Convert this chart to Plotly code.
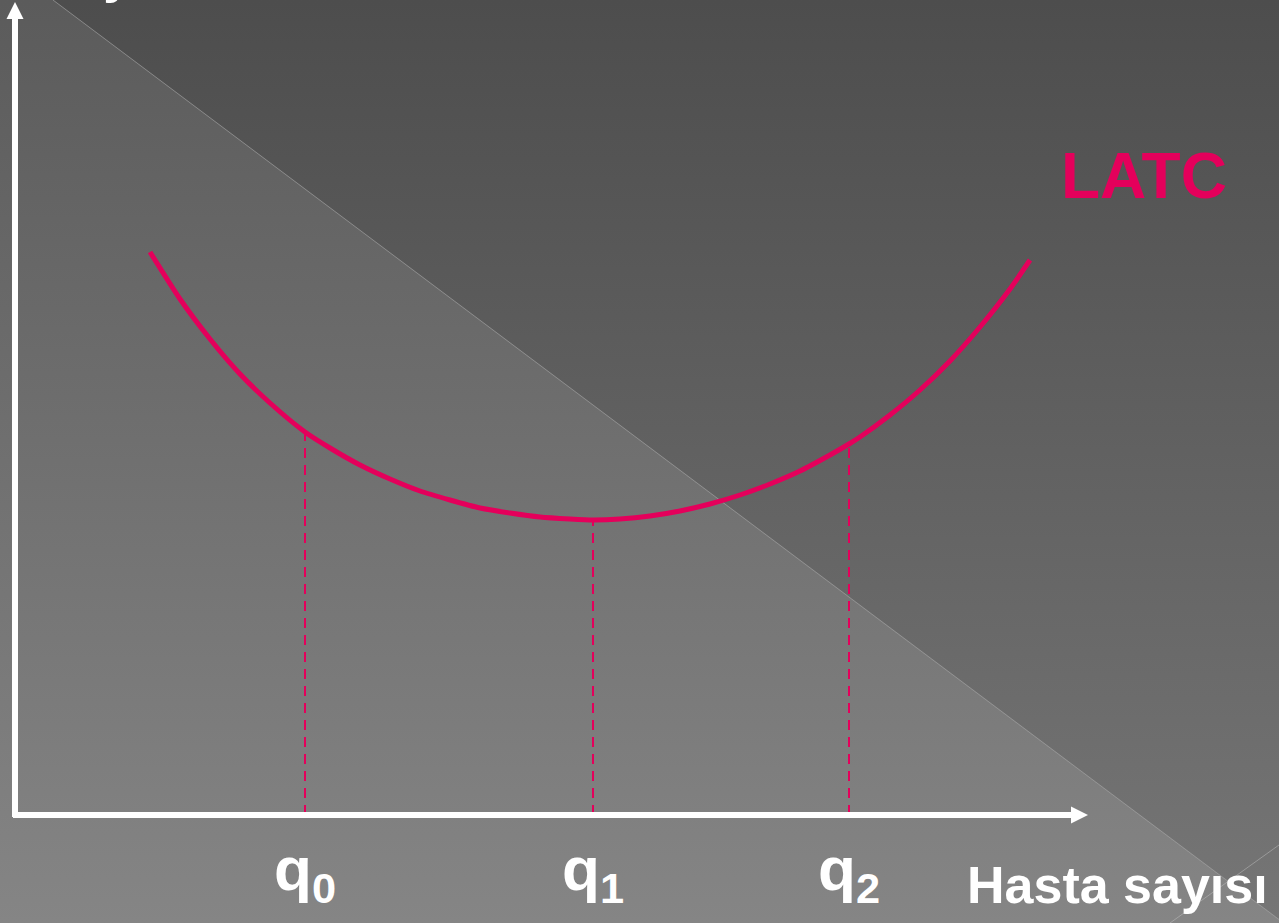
import plotly.graph_objects as go

# ---- data -------------------------------------------------------------
# LATC (long-run average total cost) curve, read along its length
latc_x = [13.5, 16.5, 19.5, 22.5, 25.5, 29.0, 31.5, 34.5, 37.5, 40.5, 43.5,
          46.5, 49.5, 52.5, 55.5, 57.8, 60.5, 63.5, 66.5, 69.5, 72.5, 75.5,
          78.5, 81.5, 83.4, 84.5, 87.5, 90.5, 93.5, 96.5, 99.5, 101.5]
latc_y = [56.3, 51.6, 47.6, 44.1, 41.2, 38.3, 36.7, 35.0, 33.6, 32.4, 31.5,
          30.7, 30.2, 29.8, 29.6, 29.5, 29.6, 29.9, 30.4, 31.1, 32.0, 33.1,
          34.4, 36.0, 37.1, 37.8, 40.0, 42.5, 45.4, 48.8, 52.6, 55.5]

# output levels marked on the horizontal axis
q_labels = ["q<sub>0</sub>", "q<sub>1</sub>", "q<sub>2</sub>"]
q_x = [29.0, 57.8, 83.4]

x_title = "Hasta sayısı"
y_title = "Maliyet"
curve_name = "LATC"

# ---- style ------------------------------------------------------------
W, H = 1279, 923
CRIMSON = "#E4005B"
FONT = "Liberation Sans, Arial, sans-serif"

# data axes: origin of the diagram and extent of the drawn axis arrows
X_RANGE = [-1.5, 126.4]
Y_RANGE = [-10.8, 81.5]
X_END, Y_END = 107.3, 81.3
HEAD = 1.7  # arrow head length (data units)
HALF = 0.85  # arrow head half width

fig = go.Figure()

# ---- slide background: two gradient panels split by a diagonal ------------
diag_x0, diag_slope = 53, 0.75
diag_y1 = (W - diag_x0) * diag_slope

fig.add_trace(go.Scatter(
    x=[0, diag_x0, W, W, 0, 0], y=[0, 0, diag_y1, H, H, 0],
    mode="lines", line=dict(width=0), fill="toself",
    fillgradient=dict(type="vertical", start=0, stop=H,
                      colorscale=[[0, "#5b5b5b"], [1, "#858585"]]),
    hoverinfo="skip", showlegend=False, xaxis="x", yaxis="y"))
fig.add_trace(go.Scatter(
    x=[diag_x0, W, W, diag_x0], y=[0, 0, diag_y1, 0],
    mode="lines", line=dict(width=0), fill="toself",
    fillgradient=dict(type="vertical", start=0, stop=H,
                      colorscale=[[0, "#4d4d4d"], [1, "#767676"]]),
    hoverinfo="skip", showlegend=False, xaxis="x", yaxis="y"))
# thin highlight lines along the panel edges
fig.add_trace(go.Scatter(
    x=[diag_x0, W], y=[0, diag_y1], mode="lines",
    line=dict(color="rgba(200,200,200,0.45)", width=1),
    hoverinfo="skip", showlegend=False, xaxis="x", yaxis="y"))
fig.add_trace(go.Scatter(
    x=[1170, W], y=[H, 845], mode="lines",
    line=dict(color="rgba(200,200,200,0.45)", width=1),
    hoverinfo="skip", showlegend=False, xaxis="x", yaxis="y"))

# ---- dashed drop lines from the curve to the axis ------------------------
for qx in q_x:
    qy = latc_y[latc_x.index(qx)]
    fig.add_trace(go.Scatter(
        x=[qx, qx], y=[0, qy], mode="lines",
        line=dict(color=CRIMSON, width=2, dash="10px,7px"),
        hoverinfo="skip", showlegend=False, xaxis="x2", yaxis="y2"))

# ---- LATC curve -----------------------------------------------------------
fig.add_trace(go.Scatter(
    x=latc_x, y=latc_y, mode="lines", name=curve_name,
    line=dict(color=CRIMSON, width=5, shape="spline", smoothing=0.6),
    showlegend=False, xaxis="x2", yaxis="y2"))

# ---- axes drawn as white arrows -----------------------------------------
shapes = [
    dict(type="line", xref="x2", yref="y2", x0=-0.2, y0=0, x1=X_END - HEAD, y1=0,
         line=dict(color="white", width=6), layer="above"),
    dict(type="path", xref="x2", yref="y2",
         path=f"M {X_END - HEAD} {-HALF} L {X_END} 0 L {X_END - HEAD} {HALF} Z",
         fillcolor="white", line=dict(width=0), layer="above"),
    dict(type="line", xref="x2", yref="y2", x0=0, y0=-0.2, x1=0, y1=Y_END - HEAD,
         line=dict(color="white", width=6), layer="above"),
    dict(type="path", xref="x2", yref="y2",
         path=f"M {-HALF} {Y_END - HEAD} L 0 {Y_END} L {HALF} {Y_END - HEAD} Z",
         fillcolor="white", line=dict(width=0), layer="above"),
]

# ---- text ---------------------------------------------------------------
annotations = []
for lab, qx in zip(q_labels, q_x):
    annotations.append(dict(
        x=qx, y=-5.8, xref="x2", yref="y2", text=lab, showarrow=False,
        xanchor="center", yanchor="middle",
        font=dict(family=FONT, size=62, color="white", weight="bold")))

annotations.append(dict(
    x=1270, y=885, xref="x", yref="y", text=x_title, showarrow=False,
    xanchor="right", yanchor="middle",
    font=dict(family=FONT, size=52, color="white", weight="bold")))

annotations.append(dict(
    x=1144, y=176, xref="x", yref="y", text=curve_name, showarrow=False,
    xanchor="center", yanchor="middle",
    font=dict(family=FONT, size=64, color=CRIMSON, weight="bold")))

annotations.append(dict(
    x=0, y=5, xref="x", yref="y", text=y_title, showarrow=False,
    xanchor="left", yanchor="bottom",
    font=dict(family=FONT, size=52, color="white", weight="bold")))

fig.update_layout(
    width=W, height=H,
    margin=dict(l=0, r=0, t=0, b=0),
    paper_bgcolor="#5a5a5a", plot_bgcolor="rgba(0,0,0,0)",
    xaxis=dict(range=[0, W], visible=False, domain=[0, 1]),
    yaxis=dict(range=[H, 0], visible=False, domain=[0, 1]),
    xaxis2=dict(range=X_RANGE, visible=False, overlaying="x"),
    yaxis2=dict(range=Y_RANGE, visible=False, overlaying="y"),
    shapes=shapes, annotations=annotations,
    showlegend=False, hovermode=False,
)

fig.write_html("out.html")
